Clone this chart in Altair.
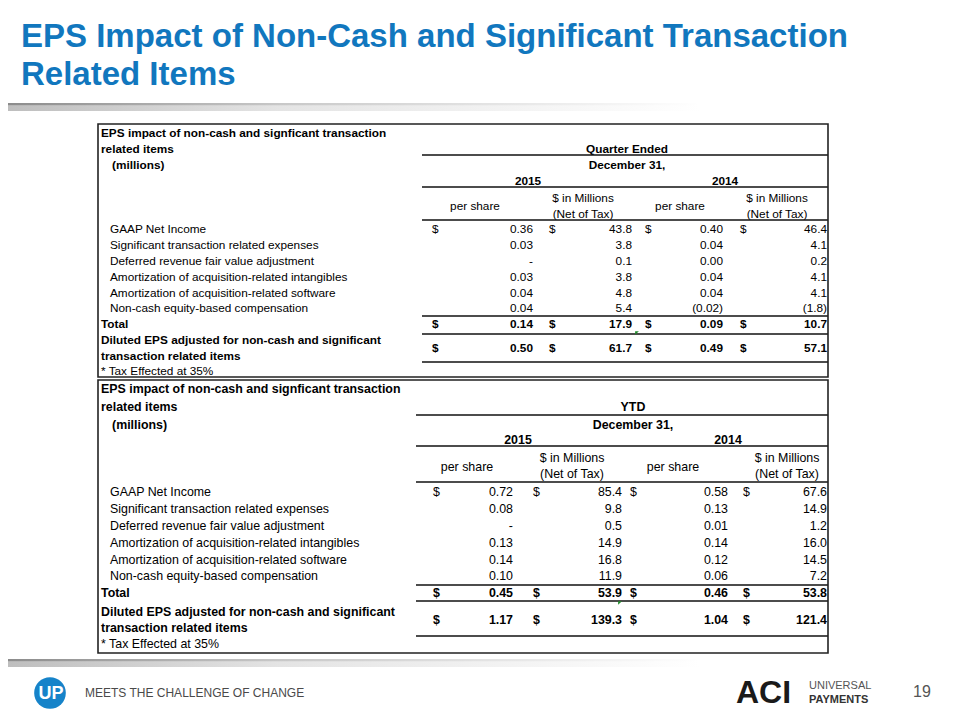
import altair as alt
import pandas as pd

# ------------------------------------------------------------------ data
title_lines = ["EPS Impact of Non-Cash and Significant Transaction", "Related Items"]

table_title = ["EPS impact of non-cash and signficant transaction", "related items"]
units_label = "(millions)"
periods = ["Quarter Ended", "YTD"]
date_label = "December 31,"
years = ["2015", "2014"]
col_heads = ["per share", "$ in Millions", "per share", "$ in Millions"]
col_heads2 = ["", "(Net of Tax)", "", "(Net of Tax)"]

row_labels = [
    "GAAP Net Income",
    "Significant transaction related expenses",
    "Deferred revenue fair value adjustment",
    "Amortization of acquisition-related intangibles",
    "Amortization of acquisition-related software",
    "Non-cash equity-based compensation",
]
total_label = "Total"
diluted_label = ["Diluted EPS adjusted for non-cash and significant", "transaction related items"]
tax_note = "* Tax Effected at 35%"

# Quarter ended December 31
q_ps_2015 = [0.36, 0.03, None, 0.03, 0.04, 0.04]
q_mil_2015 = [43.8, 3.8, 0.1, 3.8, 4.8, 5.4]
q_ps_2014 = [0.40, 0.04, 0.00, 0.04, 0.04, -0.02]
q_mil_2014 = [46.4, 4.1, 0.2, 4.1, 4.1, -1.8]
q_total = [0.14, 17.9, 0.09, 10.7]
q_diluted = [0.50, 61.7, 0.49, 57.1]

# YTD December 31
y_ps_2015 = [0.72, 0.08, None, 0.13, 0.14, 0.10]
y_mil_2015 = [85.4, 9.8, 0.5, 14.9, 16.8, 11.9]
y_ps_2014 = [0.58, 0.13, 0.01, 0.14, 0.12, 0.06]
y_mil_2014 = [67.6, 14.9, 1.2, 16.0, 14.5, 7.2]
y_total = [0.45, 53.9, 0.46, 53.8]
y_diluted = [1.17, 139.3, 1.04, 121.4]

footer_tagline = "MEETS THE CHALLENGE OF CHANGE"
page_number = "19"

# ------------------------------------------------------------------ layout
FONT = "Liberation Sans"
W, H = 944, 704
XS = alt.Scale(domain=[8, 8 + W], nice=False, zero=False)
YS = alt.Scale(domain=[8, 8 + H], nice=False, zero=False, reverse=True)

LAYOUT = [
    dict(period=periods[0], size=11.8, box=(98, 124, 828, 377), line_x0=422,
         r_t1=133, r_t2=149, r_units=165, r_years=181, r_h1=198, r_h2=214, r_hps=206,
         r_data=[229, 245, 261, 277, 293, 308], r_total=324, r_d1=340, r_d2=356, r_dv=348,
         r_tax=371, lines=[155, 187, 220, 316, 334, 362],
         c_dollar=[432, 549, 645, 740], c_val=[533, 632, 723, 827],
         c_head=[475, 583, 680, 777], c_years=[528, 725], c_period=627,
         flag=(637, 333),
         ps15=q_ps_2015, m15=q_mil_2015, ps14=q_ps_2014, m14=q_mil_2014,
         total=q_total, diluted=q_diluted),
    dict(period=periods[1], size=12.4, box=(98, 380, 828, 653), line_x0=416,
         r_t1=389, r_t2=407, r_units=425, r_years=440, r_h1=458, r_h2=474, r_hps=467,
         r_data=[492, 509, 526, 543, 560, 576], r_total=593, r_d1=612, r_d2=628, r_dv=620,
         r_tax=644, lines=[415, 446, 482, 585, 601, 636],
         c_dollar=[433, 533, 630, 743], c_val=[513, 622, 728, 827],
         c_head=[467, 572, 673, 787], c_years=[518, 728], c_period=633,
         flag=(620, 603),
         ps15=y_ps_2015, m15=y_mil_2015, ps14=y_ps_2014, m14=y_mil_2014,
         total=y_total, diluted=y_diluted),
]

LBL_X, BOLD_X, UNITS_X = 110, 101, 112


def fmt_ps(v):
    if v is None:
        return "-"
    return f"({abs(v):.2f})" if v < 0 else f"{v:.2f}"


def fmt_m(v):
    return f"({abs(v):.1f})" if v < 0 else f"{v:.1f}"


def enc(ch):
    return ch.encode(x=alt.X("x:Q", scale=XS, axis=None),
                     y=alt.Y("y:Q", scale=YS, axis=None),
                     text=alt.Text("t:N"))


def text_layer(recs, align, size, weight="normal", color="#000000", font=FONT, baseline="middle"):
    df = pd.DataFrame(recs, columns=["x", "y", "t"])
    return enc(alt.Chart(df).mark_text(align=align, baseline=baseline, fontSize=size,
                                       fontWeight=weight, color=color, font=font))


def band_layer(df, dark, mid):
    return alt.Chart(df).mark_rect(
        fill=alt.Gradient(gradient="linear", x1=0, x2=1, y1=0, y2=0,
                          stops=[alt.GradientStop(offset=0, color=dark),
                                 alt.GradientStop(offset=0.4, color=mid),
                                 alt.GradientStop(offset=1, color="#ffffff")])
    ).encode(x=alt.X("x:Q", scale=XS, axis=None), x2="x2:Q",
             y=alt.Y("y:Q", scale=YS, axis=None), y2="y2:Q")


layers = []

# decorative shadow bands (thin dark edge + soft shadow underneath)
edge = pd.DataFrame({"x": [0, 0], "x2": [700, 700], "y": [103, 659], "y2": [105.5, 661.5]})
shadow = pd.DataFrame({"x": [0, 0], "x2": [700, 700], "y": [105.5, 661.5], "y2": [111, 667]})
layers.append(band_layer(shadow, "#bdbdbd", "#e4e4e4"))
layers.append(band_layer(edge, "#8a8a8a", "#c8c8c8"))

# slide title
layers.append(text_layer([(21, 47, title_lines[0]), (21, 85, title_lines[1])],
                         "left", 33, "bold", "#1177BE", baseline="alphabetic"))

box_recs, rule_recs, flag_recs = [], [], []
for L in LAYOUT:
    s = L["size"]
    x0, y0, x1, y1 = L["box"]
    box_recs.append((x0, y0, x1, y1))
    for ly in L["lines"]:
        rule_recs.append((L["line_x0"], x1, ly))
    flag_recs.append(L["flag"])

    bold_left = [(BOLD_X, L["r_t1"], table_title[0]), (BOLD_X, L["r_t2"], table_title[1]),
                 (UNITS_X, L["r_units"], units_label),
                 (BOLD_X, L["r_total"], total_label),
                 (BOLD_X, L["r_d1"], diluted_label[0]), (BOLD_X, L["r_d2"], diluted_label[1])]
    layers.append(text_layer(bold_left, "left", s, "bold"))

    reg_left = [(LBL_X, ry, lab) for ry, lab in zip(L["r_data"], row_labels)]
    reg_left.append((BOLD_X, L["r_tax"], tax_note))
    reg_left += [(cx, L["r_data"][0], "$") for cx in L["c_dollar"]]
    layers.append(text_layer(reg_left, "left", s))

    bold_center = [(L["c_period"], L["r_t2"], L["period"]), (L["c_period"], L["r_units"], date_label)]
    bold_center += [(cx, L["r_years"], yr) for cx, yr in zip(L["c_years"], years)]
    layers.append(text_layer(bold_center, "center", s, "bold"))

    reg_center = []
    for cx, h1, h2 in zip(L["c_head"], col_heads, col_heads2):
        if h2:
            reg_center += [(cx, L["r_h1"], h1), (cx, L["r_h2"], h2)]
        else:
            reg_center.append((cx, L["r_hps"], h1))
    layers.append(text_layer(reg_center, "center", s))

    reg_right = []
    for ry, a, b, c, d in zip(L["r_data"], L["ps15"], L["m15"], L["ps14"], L["m14"]):
        reg_right += [(L["c_val"][0], ry, fmt_ps(a)), (L["c_val"][1], ry, fmt_m(b)),
                      (L["c_val"][2], ry, fmt_ps(c)), (L["c_val"][3], ry, fmt_m(d))]
    layers.append(text_layer(reg_right, "right", s))

    bold_right, bold_dollar = [], []
    for ry, vals in ((L["r_total"], L["total"]), (L["r_dv"], L["diluted"])):
        fm = [fmt_ps, fmt_m, fmt_ps, fmt_m]
        bold_right += [(cx, ry, f(v)) for cx, f, v in zip(L["c_val"], fm, vals)]
        bold_dollar += [(cx, ry, "$") for cx in L["c_dollar"]]
    layers.append(text_layer(bold_right, "right", s, "bold"))
    layers.append(text_layer(bold_dollar, "left", s, "bold"))

rules = pd.DataFrame(rule_recs, columns=["x", "x2", "y"])
layers.append(alt.Chart(rules).mark_rule(color="#111111", strokeWidth=1.6).encode(
    x=alt.X("x:Q", scale=XS, axis=None), x2="x2:Q", y=alt.Y("y:Q", scale=YS, axis=None)))

boxes = pd.DataFrame(box_recs, columns=["x", "y", "x2", "y2"])
layers.append(alt.Chart(boxes).mark_rect(fillOpacity=0, stroke="#222222", strokeWidth=1.6).encode(
    x=alt.X("x:Q", scale=XS, axis=None), x2="x2:Q",
    y=alt.Y("y:Q", scale=YS, axis=None), y2="y2:Q"))

flags = pd.DataFrame(flag_recs, columns=["x", "y"])
layers.append(alt.Chart(flags).mark_point(shape="M-1,-1L1,-1L-1,1Z", filled=True, size=14,
                                          color="#1f8a2a", opacity=1).encode(
    x=alt.X("x:Q", scale=XS, axis=None), y=alt.Y("y:Q", scale=YS, axis=None)))

# footer: UP logo
logo = pd.DataFrame({"x": [50], "y": [693]})
layers.append(alt.Chart(logo).mark_circle(size=1000, color="#1683C9", opacity=1).encode(
    x=alt.X("x:Q", scale=XS, axis=None), y=alt.Y("y:Q", scale=YS, axis=None)))
layers.append(text_layer([(51, 694, "UP")], "center", 18, "bold", "#ffffff"))
layers.append(text_layer([(85, 693, footer_tagline)], "left", 12, "normal", "#4a4a4a"))

# footer: ACI Universal Payments logo and page number
layers.append(text_layer([(736, 693, "ACI")], "left", 32, 900, "#1a1a1a"))
layers.append(text_layer([(809, 686, "UNIVERSAL")], "left", 11, "normal", "#555555"))
layers.append(text_layer([(809, 700, "PAYMENTS")], "left", 11, "bold", "#333333"))
layers.append(text_layer([(913, 692, page_number)], "left", 16, "normal", "#555555"))

chart = alt.layer(*layers).properties(
    width=W, height=H, autosize=alt.AutoSizeParams(type="none"), padding=0
).configure_view(stroke=None)

chart.save("out.html", embed_options={"renderer": "svg", "actions": False})
